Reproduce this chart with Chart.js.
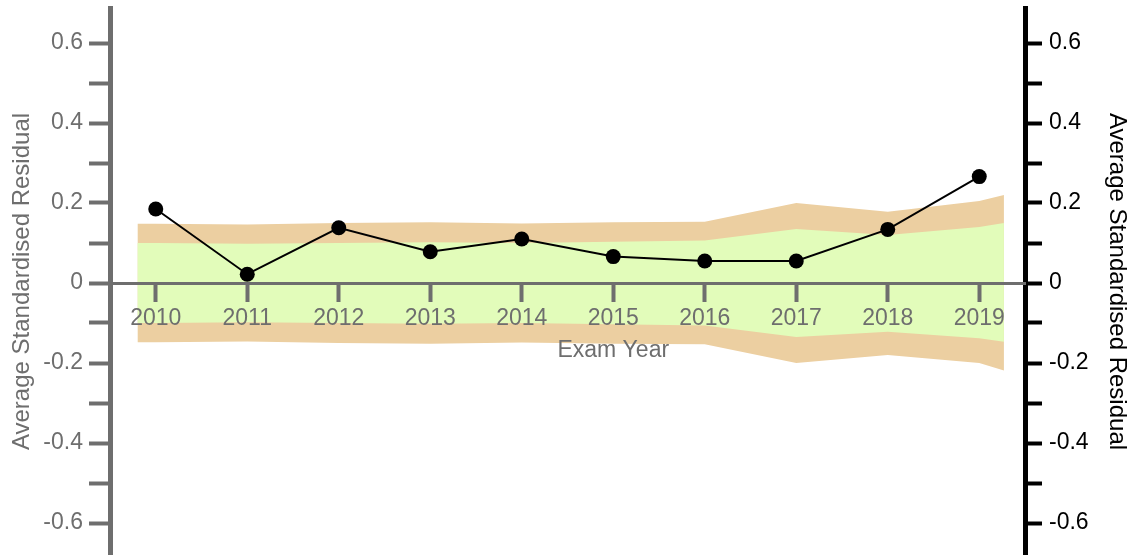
<!DOCTYPE html>
<html>
<head>
<meta charset="utf-8">
<script src="https://cdn.jsdelivr.net/npm/chart.js@4.4.0/dist/chart.umd.min.js"></script>
<style>
    html, body { margin: 0; padding: 0; background: #ffffff; }
    #wrap { width: 1133px; height: 555px; }
</style>
</head>
<body>
<div id="wrap"><canvas id="residuals"></canvas></div>
<script>
// exam years and the average standardised residual for each
const years = [2010, 2011, 2012, 2013, 2014, 2015, 2016, 2017, 2018, 2019];
const residuals = [0.185, 0.022, 0.138, 0.078, 0.11, 0.066, 0.055, 0.055, 0.134, 0.266];

// band outline points (the bands run a little past the first and last year)
const bandYears = [2009.8, 2010, 2011, 2012, 2013, 2014, 2015, 2016, 2017, 2018, 2019, 2019.27];
const outerUpper = [0.148, 0.148, 0.146, 0.15, 0.152, 0.149, 0.152, 0.153, 0.2, 0.178, 0.205, 0.22];
const innerUpper = [0.1, 0.1, 0.098, 0.1, 0.102, 0.1, 0.103, 0.106, 0.135, 0.12, 0.14, 0.15];
const innerLower = [-0.1, -0.1, -0.098, -0.1, -0.102, -0.1, -0.103, -0.106, -0.135, -0.122, -0.138, -0.147];
const outerLower = [-0.148, -0.148, -0.146, -0.15, -0.152, -0.149, -0.152, -0.153, -0.2, -0.18, -0.2, -0.219];

// axis ticks
const yTicks = [-0.6, -0.5, -0.4, -0.3, -0.2, -0.1, 0, 0.1, 0.2, 0.3, 0.4, 0.5, 0.6];
const yTitle = 'Average Standardised Residual';
const xTitle = 'Exam Year';

const axisGrey = '#6e6e6e';
const bandTan = 'rgb(236, 207, 161)';
const bandGreen = 'rgb(226, 252, 186)';

Chart.defaults.font.family = '"Liberation Sans", Arial, sans-serif';

function toPoints(xs, ys) {
    return xs.map((x, i) => ({ x: x, y: ys[i] }));
};

function yLabel(value) {
    if (Math.round(value * 10) % 2 !== 0) {
        return '';
    }
    return value === 0 ? '0' : value.toFixed(1);
};

function setYTicks(scale) {
    scale.ticks = yTicks.map(v => ({ value: v }));
};

// keep the label overhang from shrinking the plot area
function fixWidth(width) {
    return (scale) => {
        scale.width = width;
        scale.paddingTop = 0;
        scale.paddingBottom = 0;
    };
};

const examYearTitle = {
    id: 'examYearTitle',
    afterDraw(chart) {
        const { ctx, scales } = chart;
        ctx.save();
        ctx.font = '23px "Liberation Sans", Arial, sans-serif';
        ctx.fillStyle = axisGrey;
        ctx.textAlign = 'center';
        ctx.textBaseline = 'middle';
        ctx.fillText(xTitle, scales.x.getPixelForValue(years[5]), scales.y.getPixelForValue(0) + 68);
        ctx.restore();
    }
};

const bandStyle = {
    type: 'line',
    pointRadius: 0,
    borderWidth: 0,
    borderColor: 'transparent',
    tension: 0
};

new Chart(document.getElementById('residuals'), {
    type: 'line',
    data: {
        datasets: [{
            label: yTitle,
            data: toPoints(years, residuals),
            borderColor: '#000000',
            backgroundColor: '#000000',
            borderWidth: 2,
            pointRadius: 7.5,
            pointBorderWidth: 0,
            tension: 0,
            fill: false,
            order: 0
        }, {
            ...bandStyle,
            label: 'inner upper',
            data: toPoints(bandYears, innerUpper),
            backgroundColor: bandGreen,
            fill: '+1',
            order: 1
        }, {
            ...bandStyle,
            label: 'inner lower',
            data: toPoints(bandYears, innerLower),
            fill: false,
            order: 1
        }, {
            ...bandStyle,
            label: 'outer upper',
            data: toPoints(bandYears, outerUpper),
            backgroundColor: bandTan,
            fill: '+1',
            order: 2
        }, {
            ...bandStyle,
            label: 'outer lower',
            data: toPoints(bandYears, outerLower),
            fill: false,
            order: 2
        }]
    },
    options: {
        responsive: true,
        maintainAspectRatio: false,
        animation: false,
        layout: { autoPadding: false, padding: { top: 8, left: 0, right: 0, bottom: 0 } },
        plugins: {
            legend: { display: false },
            tooltip: { enabled: false }
        },
        scales: {
            x: {
                type: 'linear',
                position: { y: 0 },
                min: 2009.5,
                max: 2019.5,
                afterBuildTicks: (scale) => { scale.ticks = years.map(v => ({ value: v })); },
                afterFit: (scale) => {
                    scale.paddingLeft = 0;
                    scale.paddingRight = 0;
                    scale.paddingTop = 0;
                    scale.paddingBottom = 0;
                },
                ticks: {
                    autoSkip: false,
                    maxRotation: 0,
                    color: axisGrey,
                    font: { size: 23 },
                    padding: 5,
                    z: 1,
                    callback: (value) => String(value)
                },
                grid: { drawOnChartArea: false, tickLength: 17, tickWidth: 4, tickColor: axisGrey, z: 1 },
                border: { color: axisGrey, width: 3, z: 1 }
            },
            y: {
                type: 'linear',
                position: 'left',
                min: -0.68,
                max: 0.6875,
                afterBuildTicks: setYTicks,
                afterFit: fixWidth(110),
                ticks: {
                    autoSkip: false,
                    color: axisGrey,
                    font: { size: 23 },
                    padding: 6,
                    callback: yLabel
                },
                grid: { drawOnChartArea: false, tickLength: 21, tickWidth: 4, tickColor: axisGrey },
                border: { color: axisGrey, width: 5 },
                title: {
                    display: true,
                    text: yTitle,
                    color: axisGrey,
                    font: { size: 24 },
                    padding: { top: 8, bottom: 0 }
                }
            },
            y2: {
                type: 'linear',
                position: 'right',
                min: -0.68,
                max: 0.6875,
                afterBuildTicks: setYTicks,
                afterFit: fixWidth(108),
                ticks: {
                    autoSkip: false,
                    color: '#000000',
                    font: { size: 23 },
                    padding: 7,
                    callback: yLabel
                },
                grid: { drawOnChartArea: false, tickLength: 17, tickWidth: 4, tickColor: '#000000' },
                border: { color: '#000000', width: 5 },
                title: {
                    display: true,
                    text: yTitle,
                    color: '#000000',
                    font: { size: 24 },
                    padding: { top: 2, bottom: 0 }
                }
            }
        }
    },
    plugins: [examYearTitle]
});
</script>
</body>
</html>
